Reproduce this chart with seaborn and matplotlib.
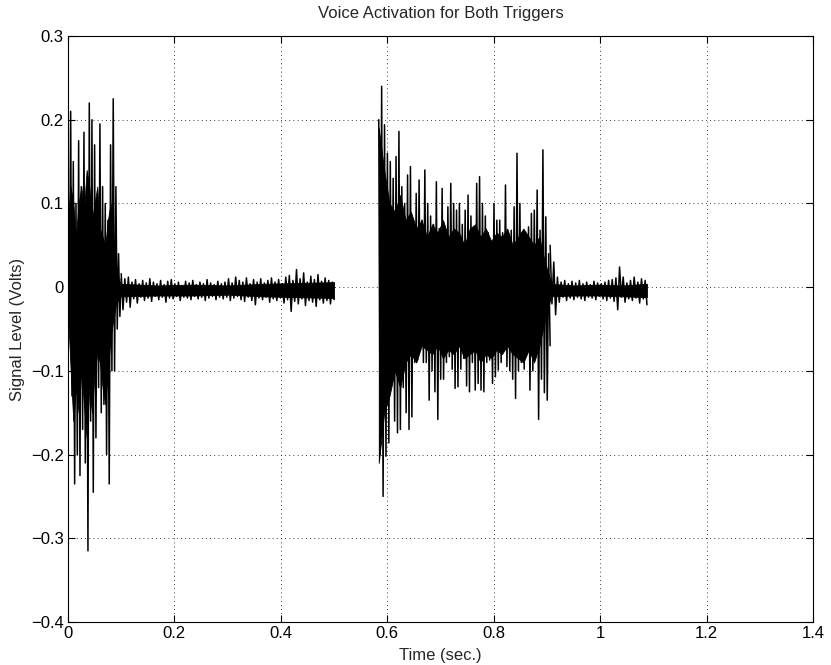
import numpy as np
import pandas as pd
import matplotlib
matplotlib.use("Agg")
import matplotlib.pyplot as plt
import seaborn as sns

# ---------------- data ----------------
title = "Voice Activation for Both Triggers"
xlabel = "Time (sec.)"
ylabel = "Signal Level (Volts)"
xticks = [0, 0.2, 0.4, 0.6, 0.8, 1, 1.2, 1.4]
xticklabels = ["0", "0.2", "0.4", "0.6", "0.8", "1", "1.2", "1.4"]
yticks = [-0.4, -0.3, -0.2, -0.1, 0, 0.1, 0.2, 0.3]
yticklabels = ["\u22120.4", "\u22120.3", "\u22120.2", "\u22120.1", "0", "0.1", "0.2", "0.3"]

# burst 1 (first trigger word): alternating peak values, t = 0 .. 0.1 s
burst1_span = (0.0, 0.1)
burst1_peaks = [0.15, -0.05, 0.21, -0.13, 0.15, -0.235, 0.10, -0.20, 0.175, -0.225,
                0.12, -0.17, 0.185, -0.21, 0.12, -0.315, 0.22, -0.16, 0.20, -0.245,
                0.17, -0.18, 0.09, -0.12, 0.195, -0.15, 0.12, -0.14, 0.10, -0.20,
                0.08, -0.235, 0.17, -0.10, 0.225, -0.10, 0.12, -0.05, 0.04, -0.035,
                0.01]
burst1_core_hi = [0.08, 0.12, 0.10, 0.06, 0.10, 0.12, 0.09, 0.14, 0.12, 0.08, 0.10,
                  0.12, 0.07, 0.06, 0.05, 0.08, 0.10, 0.06, 0.03, 0.01, 0.0]
burst1_core_lo = [-0.03, -0.10, -0.16, -0.12, -0.15, -0.10, -0.14, -0.18, -0.12, -0.15, -0.10,
                  -0.08, -0.09, -0.12, -0.14, -0.10, -0.06, -0.04, -0.02, -0.015, -0.01]

# quiet part after burst 1, t = 0.1 .. 0.5 s
quiet1_span = (0.1, 0.5)
quiet1_hi = [0.016, 0.010, 0.012, 0.006, 0.009, 0.004, 0.008, 0.005, 0.010, 0.006,
             0.004, 0.008, 0.003, 0.007, 0.009, 0.004, 0.006, 0.002, 0.007, 0.005,
             0.008, 0.003, 0.006, 0.004, 0.009, 0.005, 0.003, 0.007, 0.004, 0.006,
             0.010, 0.005, 0.012, 0.008, 0.006, 0.011, 0.004, 0.009, 0.006, 0.010,
             0.005, 0.008, 0.011, 0.006, 0.009, 0.004, 0.012, 0.014, 0.008, 0.021,
             0.010, 0.017, 0.006, 0.013, 0.009, 0.015, 0.007, 0.011, 0.008, 0.006]
quiet1_lo = [-0.027, -0.018, -0.024, -0.014, -0.019, -0.012, -0.016, -0.013, -0.017, -0.011,
             -0.015, -0.012, -0.018, -0.013, -0.014, -0.011, -0.016, -0.012, -0.013, -0.015,
             -0.011, -0.014, -0.012, -0.016, -0.013, -0.011, -0.015, -0.012, -0.014, -0.012,
             -0.016, -0.013, -0.011, -0.015, -0.017, -0.012, -0.016, -0.021, -0.013, -0.015,
             -0.012, -0.018, -0.014, -0.016, -0.013, -0.019, -0.015, -0.029, -0.017, -0.020,
             -0.014, -0.022, -0.016, -0.018, -0.023, -0.015, -0.019, -0.016, -0.020, -0.015]
quiet1_core_hi = [0.004, 0.002, 0.003, 0.002, 0.004, 0.005, 0.006]
quiet1_core_lo = [-0.011, -0.010, -0.010, -0.009, -0.011, -0.012, -0.013]

# burst 2 (second trigger word), t = 0.584 .. 0.906 s
burst2_span = (0.584, 0.906)
burst2_hi = [0.20, 0.240, 0.194, 0.16, 0.15, 0.13, 0.156, 0.186, 0.12, 0.10,
             0.134, 0.144, 0.08, 0.112, 0.128, 0.08, 0.14, 0.10, 0.085, 0.075,
             0.126, 0.07, 0.118, 0.06, 0.096, 0.124, 0.10, 0.092, 0.10, 0.075,
             0.092, 0.11, 0.085, 0.05, 0.124, 0.132, 0.10, 0.085, 0.065, 0.04,
             0.10, 0.08, 0.08, 0.065, 0.122, 0.052, 0.068, 0.096, 0.16, 0.10,
             0.06, 0.052, 0.072, 0.088, 0.092, 0.116, 0.068, 0.164, 0.084, 0.04]
burst2_lo = [-0.20, -0.25, -0.202, -0.186, -0.11, -0.16, -0.174, -0.17, -0.12, -0.15,
             -0.17, -0.155, -0.09, -0.087, -0.072, -0.09, -0.09, -0.135, -0.10, -0.125,
             -0.158, -0.11, -0.11, -0.09, -0.083, -0.098, -0.121, -0.119, -0.098, -0.085,
             -0.118, -0.125, -0.09, -0.123, -0.115, -0.123, -0.125, -0.09, -0.087, -0.115,
             -0.107, -0.099, -0.09, -0.07, -0.095, -0.10, -0.11, -0.133, -0.10, -0.09,
             -0.098, -0.06, -0.123, -0.10, -0.075, -0.158, -0.11, -0.126, -0.135, -0.07]
burst2_core_hi = [0.19, 0.14, 0.10, 0.09, 0.11, 0.08, 0.09, 0.07, 0.08, 0.06, 0.075,
                  0.065, 0.08, 0.06, 0.07, 0.065, 0.05, 0.07, 0.075, 0.06, 0.07, 0.055,
                  0.065, 0.06, 0.07, 0.05, 0.06, 0.07, 0.06, 0.05, 0.06, 0.03, 0.01]
burst2_core_lo = [-0.21, -0.15, -0.13, -0.10, -0.12, -0.09, -0.08, -0.09, -0.07, -0.075, -0.08,
                  -0.07, -0.085, -0.075, -0.08, -0.07, -0.085, -0.08, -0.075, -0.09, -0.08, -0.085,
                  -0.075, -0.08, -0.07, -0.08, -0.085, -0.09, -0.075, -0.09, -0.07, -0.04, -0.015]

# quiet part after burst 2, t = 0.906 .. 1.088 s
quiet2_span = (0.906, 1.088)
quiet2_hi = [0.05, 0.03, 0.012, 0.006, 0.008, 0.004, 0.007, 0.005, 0.008, 0.004,
             0.006, 0.003, 0.007, 0.005, 0.004, 0.006, 0.008, 0.009, 0.011, 0.024,
             0.012, 0.005, 0.008, 0.012, 0.006, 0.010, 0.008]
quiet2_lo = [-0.02, -0.033, -0.018, -0.012, -0.016, -0.013, -0.015, -0.012, -0.014, -0.016,
             -0.012, -0.013, -0.015, -0.011, -0.014, -0.016, -0.013, -0.017, -0.027, -0.012,
             -0.018, -0.014, -0.016, -0.013, -0.019, -0.014, -0.021]
quiet2_core_hi = [0.004, 0.002, 0.003, 0.002, 0.004]
quiet2_core_lo = [-0.011, -0.010, -0.010, -0.011, -0.012]

# ---------------- figure ----------------
sns.set_style("ticks")
plt.rcParams["font.family"] = ["Liberation Sans", "DejaVu Sans"]
plt.rcParams["axes.unicode_minus"] = True

fig = plt.figure(figsize=(8.31, 6.65), dpi=100)
ax = fig.add_axes([68 / 831, 1 - 622 / 665, (813 - 68) / 831, (622 - 36) / 665])


def interleave(hi, lo):
    out = []
    for h, l in zip(hi, lo):
        out.extend([h, l])
    return out


def draw_segment(span, values, core_hi, core_lo):
    t = np.linspace(span[0], span[1], len(values))
    df = pd.DataFrame({"t": t, "v": values})
    tc = np.linspace(span[0], span[1], len(core_hi))
    ax.fill_between(tc, core_lo, core_hi, color="black", lw=0.6, zorder=2)
    sns.lineplot(data=df, x="t", y="v", sort=False, estimator=None,
                 color="black", lw=1.1, ax=ax, zorder=3)


draw_segment(burst1_span, burst1_peaks, burst1_core_hi, burst1_core_lo)
draw_segment(quiet1_span, interleave(quiet1_hi, quiet1_lo), quiet1_core_hi, quiet1_core_lo)
draw_segment(burst2_span, interleave(burst2_hi, burst2_lo), burst2_core_hi, burst2_core_lo)
draw_segment(quiet2_span, interleave(quiet2_hi, quiet2_lo), quiet2_core_hi, quiet2_core_lo)

ax.set_xlim(0, 1.4)
ax.set_ylim(-0.4, 0.3)
ax.set_xticks(xticks)
ax.set_xticklabels(xticklabels)
ax.set_yticks(yticks)
ax.set_yticklabels(yticklabels)
ax.tick_params(direction="in", length=5, width=0.8, top=True, right=True,
               labelsize=12, colors="black", pad=3)
ax.grid(True, color="black", linestyle=(0, (1, 4)), lw=0.6)
for s in ax.spines.values():
    s.set_visible(True)
    s.set_color("black")
    s.set_linewidth(0.8)
ax.set_xlabel(xlabel, fontsize=12, labelpad=5)
ax.set_ylabel(ylabel, fontsize=12, labelpad=4)
ax.set_title(title, fontsize=12, pad=13)

fig.savefig("out.png", dpi=100)
